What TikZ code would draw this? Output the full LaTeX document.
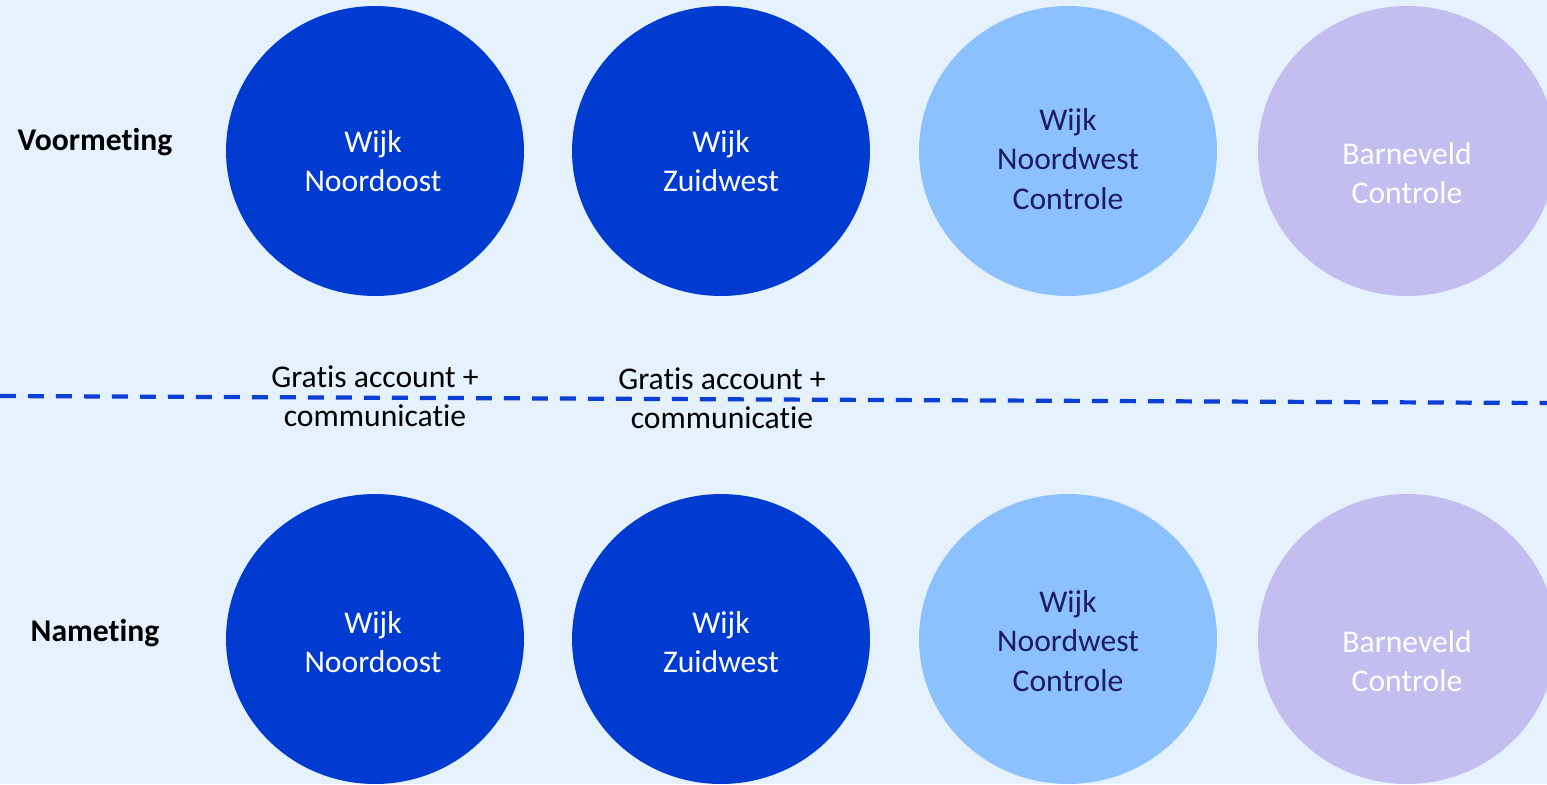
\documentclass[tikz,border=0pt]{standalone}
\usepackage{fontspec}
\setmainfont{Carlito}[Ligatures=NoCommon]
\usepackage{xcolor}
\usetikzlibrary{shapes.geometric}
\definecolor{bgblue}{HTML}{E5F1FD}
\definecolor{darkblue}{HTML}{003BD1}
\definecolor{skyblue}{HTML}{8BC1FF}
\definecolor{lavender}{HTML}{C3BEF0}
\definecolor{navytext}{HTML}{1F1B5E}
\definecolor{dashblue}{HTML}{0B3FD6}

\begin{document}
\begin{tikzpicture}[
    x=0.02cm, y=-0.02cm,
    disc/.style={ellipse, draw=none, minimum width=5.96cm, minimum height=5.8cm, inner sep=0pt},
    darkdisc/.style={disc, fill=darkblue},
    skydisc/.style={disc, fill=skyblue},
    lavdisc/.style={disc, fill=lavender},
    intext/.style={align=center, font=\fontsize{18}{22.5}\selectfont, inner sep=0pt},
    rowlabel/.style={font=\fontsize{18}{22}\selectfont\bfseries, text=black},
    note/.style={align=center, font=\fontsize{18}{22.5}\selectfont, text=black, inner sep=0pt},
    splitline/.style={draw=dashblue, line width=2.4pt, dash pattern=on 0.32cm off 0.24cm},
    ]
      \fill[bgblue] (0,0) rectangle (1547,784);
      \useasboundingbox (0,0) rectangle (1547,784);
      \clip (0,0) rectangle (1547,784);

      % voormeting
      \node [rowlabel] (voor) at (95,142) {Voormeting};
      \node [darkdisc] (vno) at (375,151) {};
      \node [darkdisc] (vzw) at (721,151) {};
      \node [skydisc] (vnw) at (1068,151) {};
      \node [lavdisc] (vbv) at (1407,151) {};
      \node [intext, text=white] (vnot) at (373,161) {Wijk\\Noordoost};
      \node [intext, text=white] (vzwt) at (721,161) {Wijk\\Zuidwest};
      \node [intext, text=navytext] (vnwt) at (1068,159) {Wijk\\Noordwest\\Controle};
      \node [intext, text=white] (vbvt) at (1407,173) {Barneveld\\Controle};

      % interventie
      \coordinate (lstart) at (0,396);
      \coordinate (lend) at (1547,403);
      \draw [splitline] (lstart) -- (lend);
      \node [note] (int1) at (375,396) {Gratis account +\\communicatie};
      \node [note] (int2) at (722,398) {Gratis account +\\communicatie};

      % nameting
      \node [rowlabel] (na) at (95,633) {Nameting};
      \node [darkdisc] (nno) at (375,639) {};
      \node [darkdisc] (nzw) at (721,639) {};
      \node [skydisc] (nnw) at (1068,639) {};
      \node [lavdisc] (nbv) at (1407,639) {};
      \node [intext, text=white] (nnot) at (373,642) {Wijk\\Noordoost};
      \node [intext, text=white] (nzwt) at (721,642) {Wijk\\Zuidwest};
      \node [intext, text=navytext] (nnwt) at (1068,641) {Wijk\\Noordwest\\Controle};
      \node [intext, text=white] (nbvt) at (1407,661) {Barneveld\\Controle};
  \end{tikzpicture}
\end{document}
